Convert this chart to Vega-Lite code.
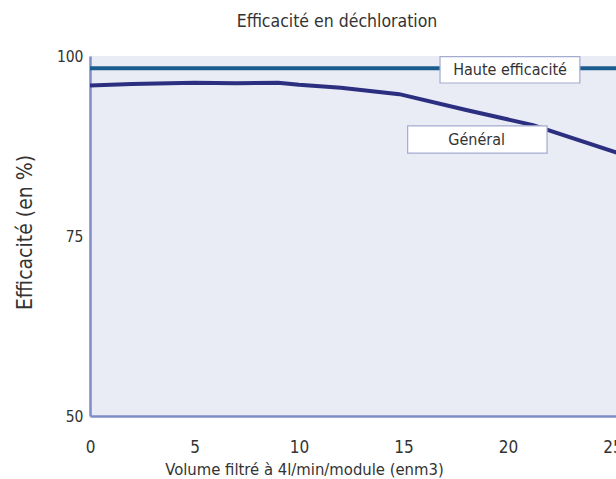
{
  "$schema": "https://vega.github.io/schema/vega-lite/v6.json",
  "width": 526,
  "height": 360,
  "autosize": {"type": "none"},
  "padding": {"left": 90, "top": 56, "right": 0, "bottom": 63},
  "background": "white",
  "config": {
    "view": {"fill": "#e9ebf5", "stroke": null},
    "font": "DejaVu Sans Condensed, Roboto, sans-serif",
    "text": {"font": "DejaVu Sans Condensed, Roboto, sans-serif"}
  },
  "title": {
    "text": "Efficacité en déchloration",
    "fontSize": 17.5,
    "fontWeight": "normal",
    "color": "#333333",
    "anchor": "middle",
    "dx": -16,
    "baseline": "alphabetic",
    "offset": 5
  },
  "datasets": {
    "curves": [
      {"serie": "Général", "volume": 0, "efficacite": 95.9},
      {"serie": "Général", "volume": 2, "efficacite": 96.1},
      {"serie": "Général", "volume": 5, "efficacite": 96.3},
      {"serie": "Général", "volume": 7, "efficacite": 96.2},
      {"serie": "Général", "volume": 9, "efficacite": 96.3},
      {"serie": "Général", "volume": 10, "efficacite": 96.0},
      {"serie": "Général", "volume": 12, "efficacite": 95.6},
      {"serie": "Général", "volume": 14.8, "efficacite": 94.7},
      {"serie": "Général", "volume": 18, "efficacite": 92.5},
      {"serie": "Général", "volume": 21.2, "efficacite": 90.4},
      {"serie": "Général", "volume": 25.3, "efficacite": 86.5},
      {"serie": "Haute efficacité", "volume": 0, "efficacite": 98.3},
      {"serie": "Haute efficacité", "volume": 25.3, "efficacite": 98.3}
    ],
    "labels": [
      {"label": "Haute efficacité", "x1": 16.75, "x2": 23.44, "y1": 96.25, "y2": 99.9, "tx": 20.1, "ty": 98.05},
      {"label": "Général", "x1": 15.2, "x2": 21.87, "y1": 86.5, "y2": 90.3, "tx": 18.5, "ty": 88.4}
    ]
  },
  "layer": [
    {
      "data": {"name": "curves"},
      "mark": {"type": "line", "strokeWidth": 4, "clip": true},
      "encoding": {
        "x": {
          "field": "volume", "type": "quantitative",
          "scale": {"domain": [0, 25.17], "nice": false, "zero": false},
          "axis": {
            "values": [0, 5, 10, 15, 20, 25],
            "title": "Volume filtré à 4l/min/module (enm3)",
            "titleFontSize": 16.5, "titleFontWeight": "normal", "titleColor": "#333333",
            "titleX": 214, "titleY": 58, "titleBaseline": "alphabetic", "titleAnchor": "middle", "titleAlign": "center",
            "labelFontSize": 17, "labelColor": "#333333", "labelPadding": 36, "labelBaseline": "alphabetic",
            "labelFlush": false, "labelOverlap": false,
            "ticks": false, "grid": false,
            "domain": true, "domainColor": "#7f8cc6", "domainWidth": 2.5
          }
        },
        "y": {
          "field": "efficacite", "type": "quantitative",
          "scale": {"domain": [50, 100], "nice": false, "zero": false},
          "axis": {
            "values": [50, 75, 100],
            "title": "Efficacité (en %)",
            "titleFontSize": 21, "titleFontWeight": "normal", "titleColor": "#333333",
            "titleX": -65, "titleY": 176, "titleAlign": "center", "titleBaseline": "middle", "titleAngle": -90,
            "labelFontSize": 15.5, "labelColor": "#333333", "labelPadding": 7, "labelBaseline": "middle",
            "labelFlush": false,
            "ticks": false, "grid": false,
            "domain": true, "domainColor": "#7f8cc6", "domainWidth": 2.5
          }
        },
        "color": {
          "field": "serie", "type": "nominal",
          "scale": {"domain": ["Général", "Haute efficacité"], "range": ["#2c2f80", "#1c5b8e"]},
          "legend": null
        }
      }
    },
    {
      "mark": {"type": "rule", "color": "#7f8cc6", "strokeWidth": 2.5},
      "encoding": {"y": {"datum": 100}}
    },
    {
      "data": {"name": "labels"},
      "mark": {"type": "rect", "fill": "white", "stroke": "#a3abd0", "strokeWidth": 1.2},
      "encoding": {
        "x": {"field": "x1", "type": "quantitative"},
        "x2": {"field": "x2"},
        "y": {"field": "y1", "type": "quantitative"},
        "y2": {"field": "y2"}
      }
    },
    {
      "data": {"name": "labels"},
      "mark": {"type": "text", "fontSize": 16, "color": "#333333", "align": "center", "baseline": "middle"},
      "encoding": {
        "x": {"field": "tx", "type": "quantitative"},
        "y": {"field": "ty", "type": "quantitative"},
        "text": {"field": "label"}
      }
    }
  ]
}
